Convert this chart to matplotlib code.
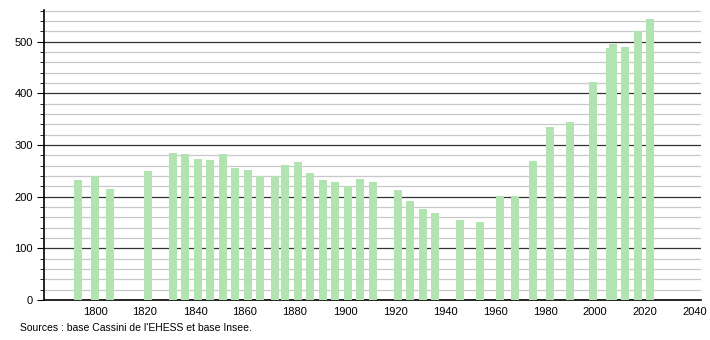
import matplotlib
matplotlib.use("Agg")
import matplotlib.pyplot as plt
import numpy as np

plt.rcParams['font.family'] = ['Liberation Sans', 'DejaVu Sans']

# recensements
years = [1793, 1800, 1806, 1821, 1831, 1836, 1841, 1846, 1851, 1856,
         1861, 1866, 1872, 1876, 1881, 1886, 1891, 1896, 1901, 1906,
         1911, 1921, 1926, 1931, 1936, 1946, 1954, 1962, 1968, 1975,
         1982, 1990, 1999, 2006, 2007, 2012, 2017, 2022]
population = [233, 240, 215, 250, 285, 283, 273, 271, 283, 256,
              252, 240, 240, 262, 266, 246, 233, 229, 221, 235,
              229, 213, 192, 177, 169, 155, 150, 202, 202, 268,
              335, 345, 422, 487, 496, 490, 520, 543]
x_ticks = [1800, 1820, 1840, 1860, 1880, 1900, 1920, 1940, 1960, 1980, 2000, 2020, 2040]
y_ticks = [0, 100, 200, 300, 400, 500]
source = "Sources : base Cassini de l'EHESS et base Insee."

fig = plt.figure(figsize=(7.1, 3.4), dpi=100)
ax = fig.add_axes([44 / 710, 40 / 340, 657 / 710, 290 / 340])

ax.bar(years, population, width=3.2, color="#b2e4b2", zorder=3)

# grille
for v in np.arange(20, 561, 20):
    if v % 100 == 0:
        ax.axhline(v, color="#333333", lw=0.9, zorder=1)
    else:
        ax.axhline(v, color="#c8c8c8", lw=0.9, zorder=1)

ax.set_xlim(1779.6, 2042.4)
ax.set_ylim(0, 561)
ax.set_xticks(x_ticks)
ax.set_yticks(y_ticks)
ax.set_yticks(np.arange(0, 561, 20), minor=True)
ax.tick_params(axis="x", length=0, labelsize=8, pad=5)
ax.tick_params(axis="y", which="major", length=5, labelsize=8, pad=3)
ax.tick_params(axis="y", which="minor", length=3)

for s in ["top", "right"]:
    ax.spines[s].set_visible(False)
ax.spines["left"].set_linewidth(1.2)
ax.spines["bottom"].set_linewidth(1.2)

fig.text(20 / 710, 1 - 328 / 340, source, fontsize=7.5, va="center")

fig.savefig("out.png", dpi=100)
